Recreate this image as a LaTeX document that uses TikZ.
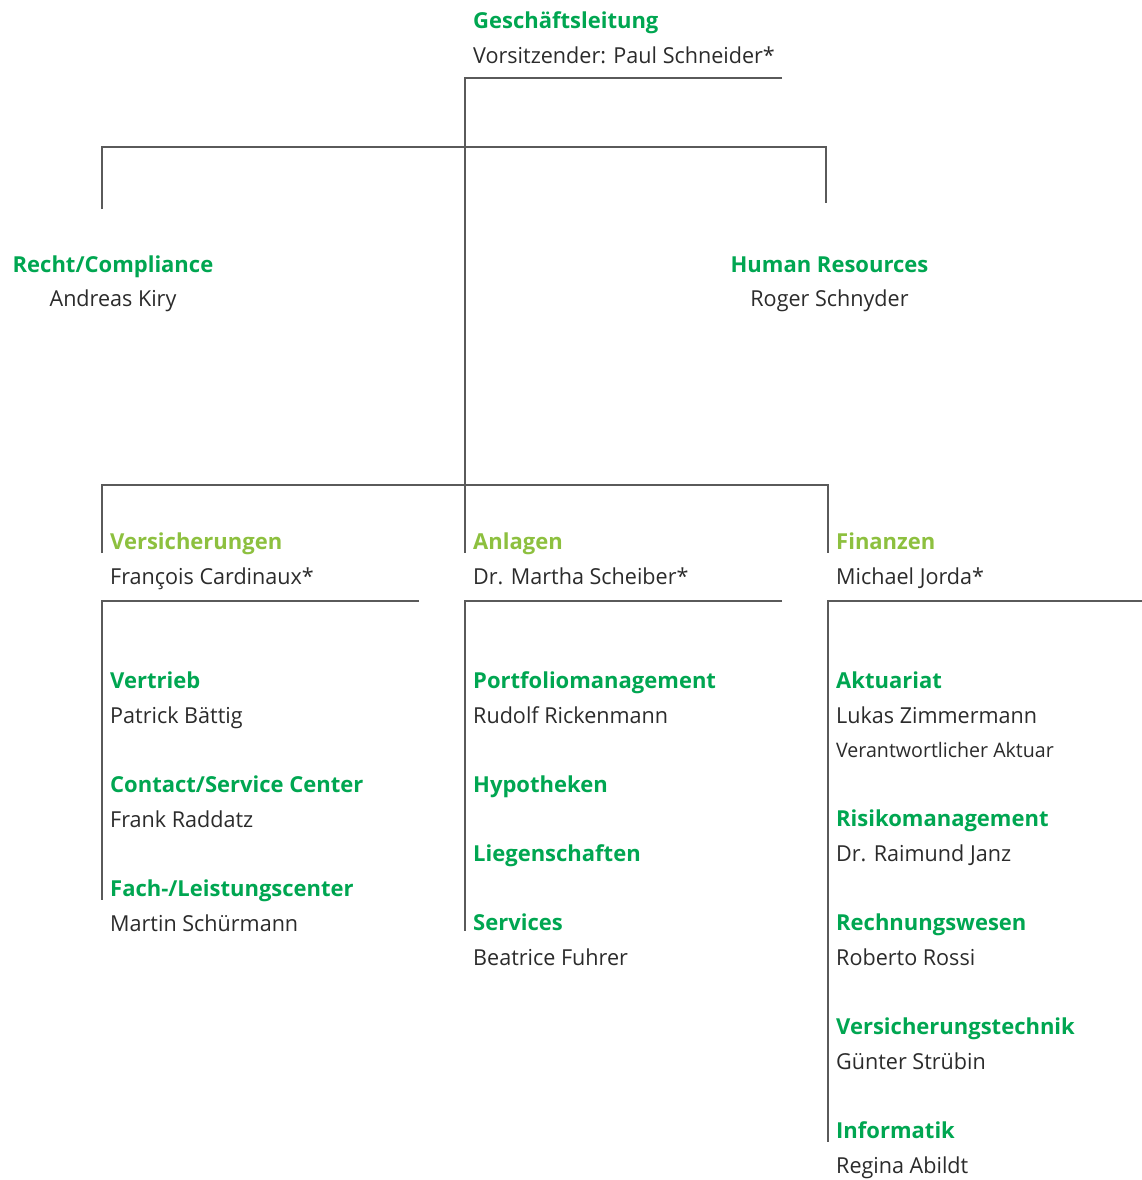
\documentclass[tikz,border=0pt]{standalone}
\usepackage{fontspec}
\setmainfont{Open Sans}
\newfontfamily\regfont[FakeStretch=0.98]{Open Sans}
\definecolor{tgreen}{HTML}{00A651}
\definecolor{lgreen}{HTML}{8DC03F}
\definecolor{ttext}{HTML}{2B2B2B}
\definecolor{tline}{HTML}{5A5A5A}
\tikzset{
  ttl/.style={anchor=base west, inner sep=0pt, text=tgreen, font=\fontsize{22}{26}\selectfont\bfseries},
  ttlc/.style={anchor=base, inner sep=0pt, text=tgreen, font=\fontsize{22}{26}\selectfont\bfseries},
  ltl/.style={anchor=base west, inner sep=0pt, text=lgreen, font=\fontsize{22}{26}\selectfont\bfseries},
  nm/.style={anchor=base west, inner sep=0pt, text=ttext, font=\regfont\fontsize{22}{26}\selectfont},
  nmc/.style={anchor=base, inner sep=0pt, text=ttext, font=\regfont\fontsize{22}{26}\selectfont},
  sm/.style={anchor=base west, inner sep=0pt, text=ttext, font=\regfont\fontsize{20}{24}\selectfont},
  ln/.style={draw=tline, line width=1.1pt}
}
\begin{document}
\begin{tikzpicture}[x=1pt,y=-1pt]
\useasboundingbox (0,0) rectangle (1142,1180);
% top
\node[ttl] (gl) at (473,29) {Geschäftsleitung};
\node[nm] (glname) at (473,63.5) {Vorsitzender: Paul Schneider*};
\node[ttlc] (rc) at (113,272) {Recht/Compliance};
\node[nmc] (rcname) at (113,306) {Andreas Kiry};
\node[ttlc] (hr) at (829.5,272) {Human Resources};
\node[nmc] (hrname) at (829.5,306) {Roger Schnyder};
% divisions
\node[ltl] (vs) at (110,549.5) {Versicherungen};
\node[nm] (vsname) at (110,584) {François Cardinaux*};
\node[ltl] (an) at (473,549.5) {Anlagen};
\node[nm] (anname) at (473,584) {Dr. Martha Scheiber*};
\node[ltl] (fi) at (836,549.5) {Finanzen};
\node[nm] (finame) at (836,584) {Michael Jorda*};
% column 1
\node[ttl] (vt) at (110,688.5) {Vertrieb};
\node[nm] (vtname) at (110,723) {Patrick Bättig};
\node[ttl] (cs) at (110,792.5) {Contact/Service Center};
\node[nm] (csname) at (110,827) {Frank Raddatz};
\node[ttl] (fl) at (110,896.5) {Fach-/Leistungscenter};
\node[nm] (flname) at (110,931) {Martin Schürmann};
% column 2
\node[ttl] (pm) at (473,688.5) {Portfoliomanagement};
\node[nm] (pmname) at (473,723) {Rudolf Rickenmann};
\node[ttl] (hy) at (473,792.5) {Hypotheken};
\node[ttl] (lg) at (473,861.5) {Liegenschaften};
\node[ttl] (sv) at (473,930.5) {Services};
\node[nm] (svname) at (473,965) {Beatrice Fuhrer};
% column 3
\node[ttl] (ak) at (836,688.5) {Aktuariat};
\node[nm] (akname) at (836,723) {Lukas Zimmermann};
\node[sm] (akrole) at (836,757) {Verantwortlicher Aktuar};
\node[ttl] (rm) at (836,826.5) {Risikomanagement};
\node[nm] (rmname) at (836,861) {Dr. Raimund Janz};
\node[ttl] (rw) at (836,930.5) {Rechnungswesen};
\node[nm] (rwname) at (836,965) {Roberto Rossi};
\node[ttl] (vtk) at (836,1034.5) {Versicherungstechnik};
\node[nm] (vtkname) at (836,1069) {Günter Strübin};
\node[ttl] (inf) at (836,1138.5) {Informatik};
\node[nm] (infname) at (836,1173) {Regina Abildt};
% connector coordinates
\coordinate (glR) at (782,78);
\coordinate (glL) at (465,78);
\coordinate (mid1) at (465,147);
\coordinate (b1L) at (102,147);
\coordinate (b1R) at (826,147);
\coordinate (rcT) at (102,209);
\coordinate (hrT) at (826,203);
\coordinate (mid2) at (465,485);
\coordinate (b2L) at (102,485);
\coordinate (b2R) at (828,485);
\coordinate (vsT) at (102,553);
\coordinate (anT) at (465,553);
\coordinate (fiT) at (828,553);
\coordinate (c1T) at (102,601);
\coordinate (c1R) at (419,601);
\coordinate (c1B) at (102,900);
\coordinate (c2T) at (465,601);
\coordinate (c2R) at (782,601);
\coordinate (c2B) at (465,931);
\coordinate (c3T) at (828,601);
\coordinate (c3R) at (1142,601);
\coordinate (c3B) at (828,1142);
% lines
\draw[ln] (glR) -- (glL) -- (mid2);
\draw[ln] (rcT) -- (b1L) -- (b1R) -- (hrT);
\draw[ln] (vsT) -- (b2L) -- (b2R) -- (fiT);
\draw[ln] (mid2) -- (anT);
\draw[ln] (c1R) -- (c1T) -- (c1B);
\draw[ln] (c2R) -- (c2T) -- (c2B);
\draw[ln] (c3R) -- (c3T) -- (c3B);
\end{tikzpicture}
\end{document}
